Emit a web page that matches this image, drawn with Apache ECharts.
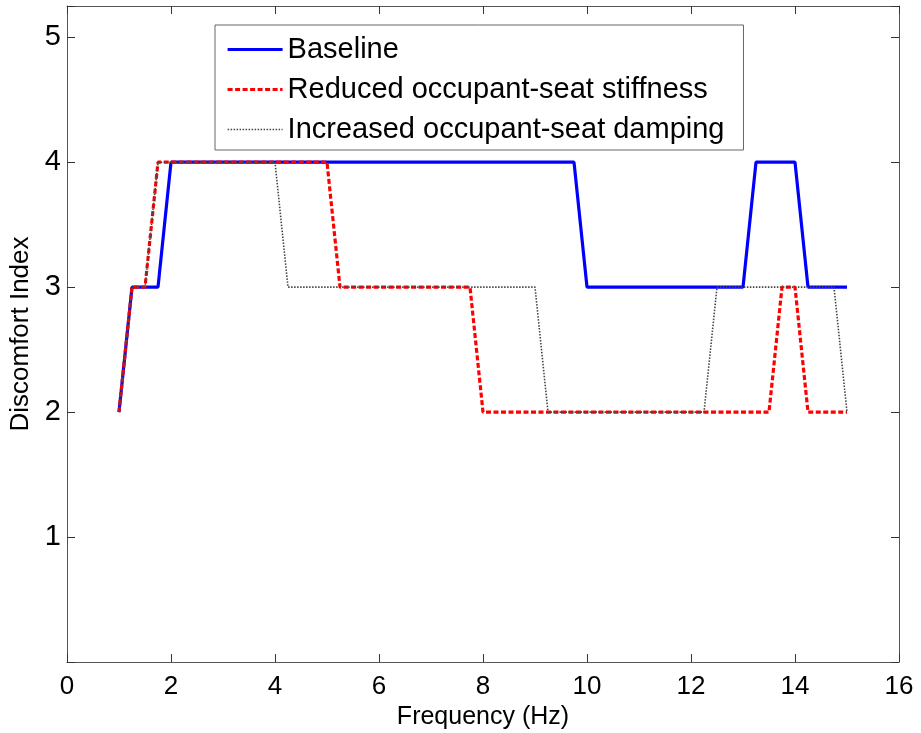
<!DOCTYPE html>
<html>
<head>
<meta charset="utf-8">
<script src="https://cdn.jsdelivr.net/npm/echarts@6/dist/echarts.min.js"></script>
<style>
html,body{margin:0;padding:0;background:#fff;}
#chart{width:921px;height:733px;}
</style>
</head>
<body>
<div id="chart"></div>
<script>
// Data (breakpoints of each curve)
const seriesNames = ['Baseline', 'Reduced occupant-seat stiffness', 'Increased occupant-seat damping'];
const baselineFreq = [1, 1.25, 1.75, 2, 9.75, 10, 13, 13.25, 14, 14.25, 15];
const baselineIndex = [2, 3, 3, 4, 4, 3, 3, 4, 4, 3, 3];
const stiffnessFreq = [1, 1.25, 1.5, 1.75, 5, 5.25, 7.75, 8, 13.5, 13.75, 14, 14.25, 15];
const stiffnessIndex = [2, 3, 3, 4, 4, 3, 3, 2, 2, 3, 3, 2, 2];
const dampingFreq = [1, 1.25, 1.5, 1.75, 4, 4.25, 9, 9.25, 12.25, 12.5, 14.75, 15];
const dampingIndex = [2, 3, 3, 4, 4, 3, 3, 2, 2, 3, 3, 2];
const xTicks = [0, 2, 4, 6, 8, 10, 12, 14, 16];
const yTicks = [1, 2, 3, 4, 5];

const pairs = (xs, ys) => xs.map((x, i) => [x, ys[i]]);
const FONT = "'Liberation Sans', Arial, Helvetica, sans-serif";
const AX = '#555';

const chart = echarts.init(document.getElementById('chart'), null, {renderer: 'canvas'});
const baseAxis = {
  type: 'value',
  axisLine: {show: true, onZero: false, lineStyle: {color: AX, width: 1}},
  axisTick: {show: true, inside: true, length: 8, lineStyle: {color: '#333', width: 1}},
  splitLine: {show: false}
};
chart.setOption({
  animation: false,
  backgroundColor: '#fff',
  grid: {left: 67, right: 22, top: 6, bottom: 71, containLabel: false, outerBoundsMode: 'none'},
  legend: {
    orient: 'vertical',
    left: 215, top: 25,
    data: [
      {name: seriesNames[0], lineStyle: {width: 3.2}},
      {name: seriesNames[1], lineStyle: {width: 3}},
      {name: seriesNames[2], lineStyle: {width: 1.6}}
    ],
    itemWidth: 55, itemHeight: 28, itemGap: 11,
    padding: [10, 19, 6, 11],
    borderColor: '#666', borderWidth: 1,
    backgroundColor: '#fff',
    itemStyle: {opacity: 0},
    textStyle: {fontFamily: FONT, fontSize: 29, color: '#000', lineHeight: 28}
  },
  xAxis: [
    Object.assign({}, baseAxis, {
      position: 'bottom', min: 0, max: 16, interval: 2,
      name: 'Frequency (Hz)', nameLocation: 'middle', nameGap: 39,
      nameTextStyle: {fontFamily: FONT, fontSize: 25, color: '#000'},
      axisLabel: {fontFamily: FONT, fontSize: 26, color: '#000', margin: 12,
        formatter: v => xTicks.includes(v) ? String(v) : ''}
    }),
    Object.assign({}, baseAxis, {
      position: 'top', min: 0, max: 16, interval: 2,
      axisLabel: {show: false}
    })
  ],
  yAxis: [
    Object.assign({}, baseAxis, {
      position: 'left', min: 0, max: 5.25, interval: 1,
      name: 'Discomfort Index', nameLocation: 'middle', nameGap: 33, nameRotate: 90,
      nameTextStyle: {fontFamily: FONT, fontSize: 26, color: '#000'},
      axisLabel: {fontFamily: FONT, fontSize: 29, color: '#000', margin: 6,
        formatter: v => yTicks.includes(v) ? String(v) : ''}
    }),
    Object.assign({}, baseAxis, {
      position: 'right', min: 0, max: 5.25, interval: 1,
      axisLabel: {show: false}
    })
  ],
  series: [
    {
      name: seriesNames[0], type: 'line', data: pairs(baselineFreq, baselineIndex),
      symbol: 'none', lineStyle: {color: '#0000ff', width: 3.2, type: 'solid'},
      itemStyle: {color: '#0000ff'}, z: 2
    },
    {
      name: seriesNames[1], type: 'line', data: pairs(stiffnessFreq, stiffnessIndex),
      symbol: 'none', lineStyle: {color: '#ff0000', width: 3.2, type: [5, 2.5]},
      itemStyle: {color: '#ff0000'}, z: 3
    },
    {
      name: seriesNames[2], type: 'line', data: pairs(dampingFreq, dampingIndex),
      symbol: 'none', lineStyle: {color: '#444', width: 1.6, type: [1.5, 1.5]},
      itemStyle: {color: '#444'}, z: 4
    }
  ]
});
</script>
</body>
</html>
